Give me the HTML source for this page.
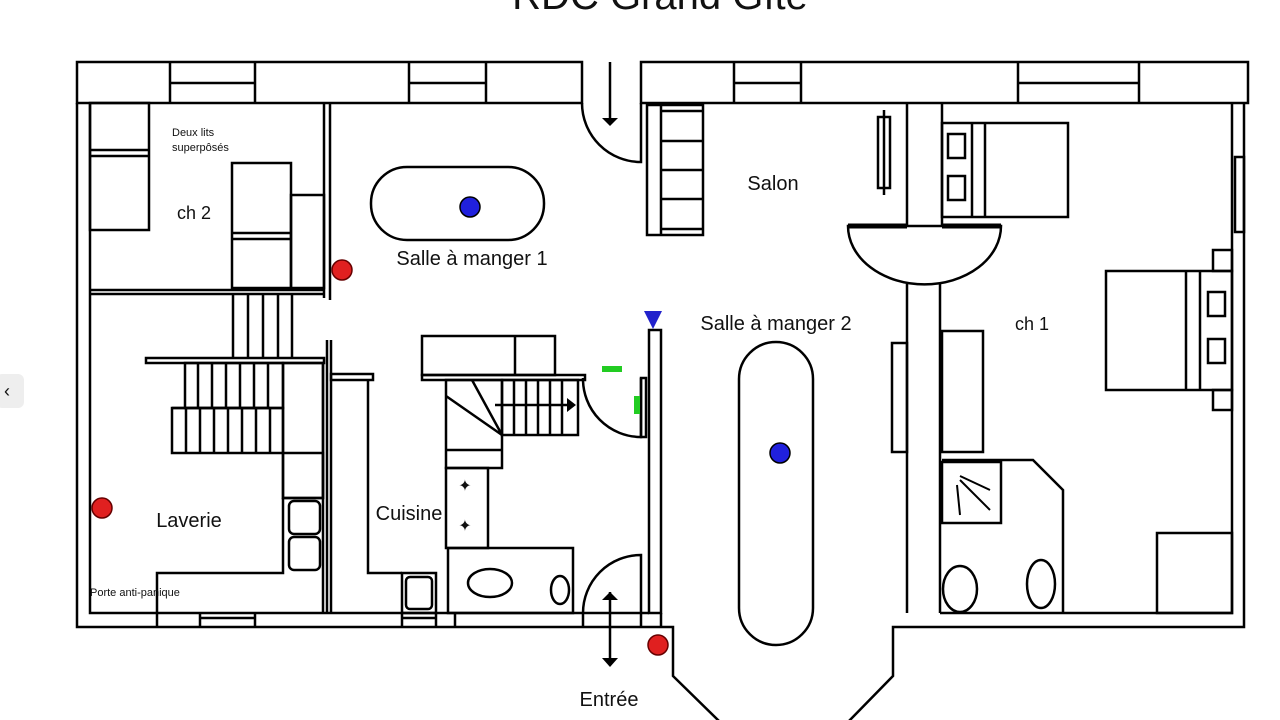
<!DOCTYPE html>
<html><head><meta charset="utf-8"><style>
html,body{margin:0;padding:0;background:#fff;width:1280px;height:720px;overflow:hidden}
svg{display:block}
text{font-family:"Liberation Sans","DejaVu Sans",sans-serif;fill:#111}
</style></head><body>
<svg width="1280" height="720" viewBox="0 0 1280 720" xmlns="http://www.w3.org/2000/svg">
<g fill="none" stroke="#000" stroke-width="2.5">
<rect x="77" y="62" width="505" height="41"/>
<rect x="641" y="62" width="607" height="41"/>
<path d="M170 62V103M255 62V103M409 62V103M486 62V103M170 83H255M409 83H486"/>
<path d="M734 62V103M801 62V103M1018 62V103M1139 62V103M734 83H801M1018 83H1139"/>
<path d="M77 103V627H673V676L720 722"/>
<path d="M90 103V613H649"/>
<path d="M1244 103V627H893V676L848 722"/>
<path d="M1232 103V613H940"/>
<rect x="1235" y="157" width="9" height="75"/>
<path d="M157 613V627M200 613V627M255 613V627M402 613V627M436 613V627M455 613V627M583 613V627M641 613V627M661 613V627"/>
<path d="M200 618H255M402 618H436"/>
<path d="M582 103A59 59 0 0 0 641 162V103"/>
<path d="M610 62V120"/>
<path d="M324 103V298M330 103V300M90 290H324M90 294H324"/>
<rect x="90" y="103" width="59" height="127"/>
<path d="M90 150H149M90 156H149"/>
<rect x="232" y="163" width="59" height="125"/>
<path d="M232 233H291M232 239H291"/>
<rect x="291" y="195" width="33" height="93"/>
<path d="M233 294V358M248 294V358M263 294V358M278 294V358M292 294V358"/>
<rect x="146" y="358" width="178" height="5"/>
<rect x="185" y="363" width="98" height="45"/>
<rect x="172" y="408" width="111" height="45"/>
<path d="M172 408H270"/>
<path d="M198 363V408M212 363V408M226 363V408M240 363V408M254 363V408M268 363V408"/>
<path d="M186 408V453M200 408V453M214 408V453M228 408V453M242 408V453M256 408V453M270 408V453"/>
<rect x="283" y="363" width="40" height="135"/>
<rect x="283" y="453" width="40" height="45"/>
<rect x="289" y="501" width="31" height="33" rx="5"/>
<rect x="289" y="537" width="31" height="33" rx="5"/>
<path d="M283 498V573H157V613"/>
<path d="M323 363V613"/>
<path d="M327 340V613M331 340V613"/>
<rect x="331" y="374" width="42" height="6"/>
<path d="M368 380V573H402"/>
<rect x="402" y="573" width="34" height="40"/>
<rect x="406" y="577" width="26" height="32" rx="4"/>
<rect x="422" y="336" width="133" height="39"/>
<path d="M515 336V375"/>
<rect x="422" y="375" width="163" height="5"/>
<rect x="446" y="380" width="56" height="88"/>
<path d="M446 450H502M446 396L502 435M472 380L502 435"/>
<rect x="502" y="380" width="76" height="55"/>
<path d="M514 380V435M526 380V435M538 380V435M550 380V435M562 380V435"/>
<path d="M495 405H572"/>
<rect x="446" y="468" width="42" height="80"/>
<rect x="448" y="548" width="125" height="65"/>
<ellipse cx="490" cy="583" rx="22" ry="14"/>
<ellipse cx="560" cy="590" rx="9" ry="14"/>
<path d="M583 613A58 58 0 0 1 641 555V613"/>
<path d="M610 592V665"/>
<path d="M583 378A58 58 0 0 0 641 437V378"/>
<rect x="641" y="378" width="5" height="59"/>
<rect x="649" y="330" width="12" height="283"/>
<rect x="647" y="105" width="56" height="130"/>
<path d="M661 105V235M661 111H703M661 141H703M661 170H703M661 199H703M661 229H703"/>
<rect x="878" y="117" width="12" height="71"/>
<path d="M884 110V195"/>
<path d="M907 103V226M942 103V226M907 284V613M940 284V613"/>
<path d="M848 226H1001A76 58 0 0 1 848 226Z"/>
<path d="M848 226H907M942 226H1001" stroke-width="5"/>
<rect x="942" y="123" width="126" height="94"/>
<path d="M972 123V217M985 123V217"/>
<rect x="948" y="134" width="17" height="24"/>
<rect x="948" y="176" width="17" height="24"/>
<rect x="1106" y="271" width="126" height="119"/>
<path d="M1186 271V390M1200 271V390"/>
<rect x="1208" y="292" width="17" height="24"/>
<rect x="1208" y="339" width="17" height="24"/>
<rect x="1213" y="250" width="19" height="21"/>
<rect x="1213" y="390" width="19" height="20"/>
<rect x="942" y="331" width="41" height="121"/>
<rect x="892" y="343" width="15" height="109"/>
<path d="M942 460H1033L1063 490V613"/>
<rect x="942" y="462" width="59" height="61"/>
<path d="M960 476L990 490M960 480L990 510M957 485L960 515" stroke-width="2"/>
<ellipse cx="960" cy="589" rx="17" ry="23"/>
<ellipse cx="1041" cy="584" rx="14" ry="24"/>
<rect x="1157" y="533" width="75" height="80"/>
<rect x="739" y="342" width="74" height="303" rx="37"/>
<rect x="371" y="167" width="173" height="73" rx="36"/>
</g>
<g fill="#000">
<polygon points="602,118 618,118 610,126"/>
<polygon points="602,600 618,600 610,592"/>
<polygon points="602,658 618,658 610,667"/>
<polygon points="567,398 567,412 576,405"/>
<text x="465" y="491" font-size="16" text-anchor="middle">✦</text>
<text x="465" y="531" font-size="16" text-anchor="middle">✦</text>
</g>
<polygon points="644,311 662,311 653,329" fill="#2222cc"/>
<rect x="602" y="366" width="20" height="6" fill="#22cc22"/>
<rect x="634" y="396" width="6" height="18" fill="#22cc22"/>
<g stroke="#600" stroke-width="1.5" fill="#e02020">
<circle cx="342" cy="270" r="10"/><circle cx="102" cy="508" r="10"/><circle cx="658" cy="645" r="10"/>
</g>
<g stroke="#000" stroke-width="1.5" fill="#2020dd">
<circle cx="470" cy="207" r="10"/><circle cx="780" cy="453" r="10"/>
</g>
<text x="660" y="9" font-size="40" text-anchor="middle">RDC  Grand Gîte</text>
<text x="172" y="136" font-size="11">Deux lits</text>
<text x="172" y="151" font-size="11">superpôsés</text>
<text x="177" y="219" font-size="18">ch 2</text>
<text x="472" y="265" font-size="20" text-anchor="middle">Salle à manger 1</text>
<text x="773" y="190" font-size="20" text-anchor="middle">Salon</text>
<text x="776" y="330" font-size="20" text-anchor="middle">Salle à manger 2</text>
<text x="1032" y="330" font-size="18" text-anchor="middle">ch 1</text>
<text x="189" y="527" font-size="20" text-anchor="middle">Laverie</text>
<text x="409" y="520" font-size="20" text-anchor="middle">Cuisine</text>
<text x="90" y="596" font-size="11">Porte anti-panique</text>
<text x="609" y="706" font-size="20" text-anchor="middle">Entrée</text>
<rect x="-4" y="374" width="28" height="34" rx="6" fill="#eeeeee"/>
<text x="4" y="397" font-size="18" fill="#666">‹</text>
</svg>
</body></html>
